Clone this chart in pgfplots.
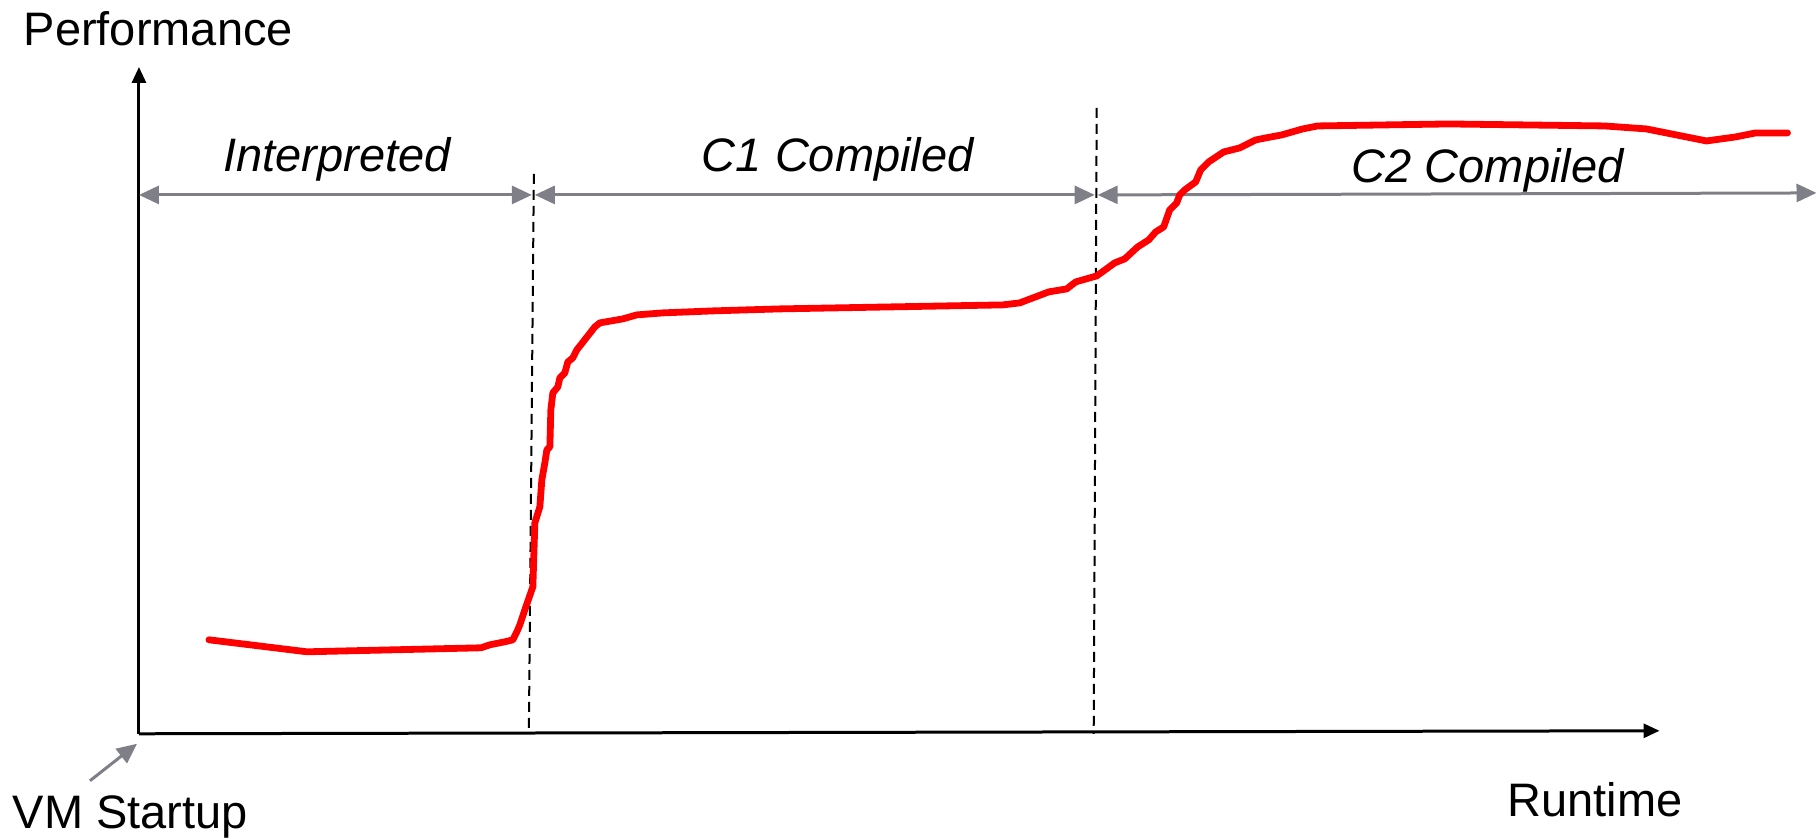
\documentclass[border=0pt]{standalone}
\usepackage{fontspec}
\setmainfont{Liberation Sans}
\usepackage{pgfplots}
\pgfplotsset{compat=1.18}
\usetikzlibrary{arrows.meta}
\definecolor{arrgray}{RGB}{127,127,135}
\begin{document}
\begin{tikzpicture}[every node/.style={font=\fontsize{11.75pt}{14pt}\selectfont, inner sep=0pt}]
\begin{axis}[
  x=0.25pt, y=0.25pt, y dir=reverse,
  xmin=0, xmax=1818, ymin=0, ymax=838,
  hide axis, clip=false, scale only axis,
]
\path (axis cs:0,0) rectangle (axis cs:1818,838);
% axes
\draw[black, line width=0.75pt, -{Triangle[length=4pt,width=3.5pt]}] (axis cs:139,734) -- (axis cs:139,67);
\draw[black, line width=0.75pt, -{Triangle[length=4pt,width=3.5pt]}] (axis cs:139,734) -- (axis cs:1660,731);
% phase separators
\draw[black, line width=0.5pt, dash pattern=on 2.5pt off 1.5pt] (axis cs:534,174) -- (axis cs:529,734);
\draw[black, line width=0.5pt, dash pattern=on 2.5pt off 1.5pt] (axis cs:1097,108) -- (axis cs:1094,734);
% phase arrows
\draw[arrgray, line width=0.75pt, {Triangle[length=5pt,width=4.5pt]}-{Triangle[length=5pt,width=4.5pt]}] (axis cs:139,195) -- (axis cs:532,195);
\draw[arrgray, line width=0.75pt, {Triangle[length=5pt,width=4.5pt]}-{Triangle[length=5pt,width=4.5pt]}] (axis cs:535,195) -- (axis cs:1095,195);
\draw[arrgray, line width=0.75pt, {Triangle[length=5pt,width=4.5pt]}-{Triangle[length=5pt,width=4.5pt]}] (axis cs:1098,195) -- (axis cs:1817,193);
% VM startup arrow
\draw[arrgray, line width=0.75pt, -{Triangle[length=5pt,width=4.5pt]}] (axis cs:90,781) -- (axis cs:137,744);
% curve
\addplot[red, line width=1.7pt, line join=round, line cap=round] coordinates {
(209,640) (250,645) (307,652) (481,648) (490,645) (505,642) (513,640) (517,632)
(520,625) (526,607) (533,587) (535,523) (540,507) (542,480) (545,463) (547,450)
(550,447) (551,410) (553,393) (558,387) (560,378) (565,373) (568,362) (573,358)
(577,350) (595,327) (600,323) (623,319) (637,315) (663,313) (713,311) (780,309)
(1003,305) (1020,303) (1049,292) (1067,289) (1076,282) (1097,276) (1115,263)
(1125,259) (1138,247) (1149,240) (1156,232) (1164,227) (1170,210) (1177,203)
(1180,195) (1185,190) (1196,182) (1201,170) (1209,162) (1224,152) (1240,148)
(1256,140) (1266,138) (1282,135) (1303,129) (1318,126) (1449,124) (1605,126)
(1647,129) (1707,141) (1736,137) (1756,133) (1788,133)
};
% labels
\node[anchor=base west] at (axis cs:23,46) {Performance};
\node[anchor=base west] at (axis cs:12,829) {VM Startup};
\node[anchor=base west] at (axis cs:1507,817) {Runtime};
\node[anchor=base] at (axis cs:337,172) {\itshape Interpreted};
\node[anchor=base] at (axis cs:838,172) {\itshape C1 Compiled};
\node[anchor=base] at (axis cs:1488,183) {\itshape C2 Compiled};
\end{axis}
\end{tikzpicture}
\end{document}
